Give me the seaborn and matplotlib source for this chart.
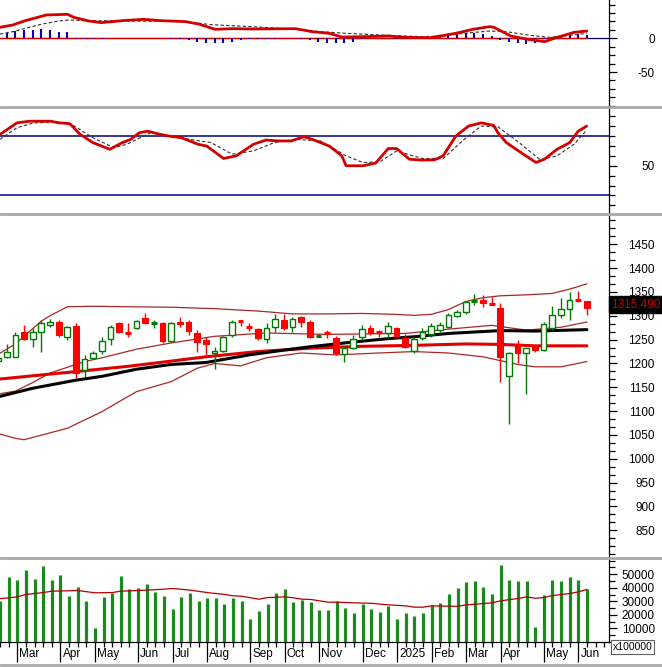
import matplotlib
matplotlib.use("Agg")
import matplotlib.pyplot as plt
import matplotlib.transforms as mtransforms
from matplotlib.lines import Line2D
from matplotlib.patches import Rectangle
import numpy as np
import pandas as pd
import seaborn as sns

# ---------------- data (weekly bars, index 0..68) ----------------
opens = [1205, 1214, 1214, 1265, 1251, 1265, 1281, 1288, 1256, 1279,
         1186, 1211, 1226, 1251, 1284, 1265, 1274, 1295, 1284, 1284,
         1248, 1288, 1288, 1263, 1249, 1221, 1227, 1260, 1290, 1277,
         1272, 1251, 1276, 1291, 1276, 1298, 1286, 1256, 1264, 1254,
         1219, 1233, 1256, 1274, 1266, 1263, 1275, 1253, 1226, 1253,
         1262, 1270, 1277, 1300, 1309, 1330, 1333, 1325, 1316, 1174,
         1240, 1221, 1237, 1228, 1274, 1302, 1314, 1335, 1331]
highs = [1214, 1240, 1266, 1281, 1274, 1291, 1293, 1291, 1279, 1284,
         1218, 1227, 1256, 1281, 1286, 1284, 1291, 1306, 1291, 1286,
         1286, 1298, 1291, 1270, 1256, 1235, 1258, 1291, 1291, 1284,
         1274, 1284, 1304, 1304, 1298, 1300, 1291, 1262, 1270, 1258,
         1237, 1260, 1281, 1281, 1270, 1286, 1277, 1261, 1256, 1274,
         1284, 1286, 1305, 1312, 1331, 1345, 1344, 1340, 1326, 1224,
         1249, 1233, 1239, 1287, 1320, 1337, 1349, 1352, 1331]
lows = [1200, 1212, 1213, 1250, 1235, 1225, 1276, 1256, 1250, 1169,
        1171, 1209, 1219, 1239, 1263, 1256, 1272, 1283, 1274, 1244,
        1245, 1277, 1260, 1225, 1218, 1188, 1225, 1256, 1278, 1269,
        1249, 1242, 1267, 1270, 1267, 1277, 1253, 1255, 1253, 1218,
        1204, 1230, 1249, 1260, 1256, 1254, 1253, 1232, 1223, 1249,
        1256, 1267, 1275, 1298, 1303, 1323, 1319, 1322, 1162, 1074,
        1200, 1137, 1224, 1227, 1270, 1295, 1291, 1328, 1302]
closes = [1211, 1224, 1260, 1251, 1267, 1284, 1288, 1260, 1277, 1181,
          1209, 1223, 1247, 1276, 1265, 1263, 1290, 1284, 1286, 1248,
          1284, 1283, 1269, 1246, 1241, 1226, 1256, 1288, 1288, 1275,
          1253, 1274, 1293, 1274, 1293, 1288, 1256, 1258, 1262, 1221,
          1232, 1251, 1272, 1263, 1264, 1279, 1258, 1235, 1251, 1267,
          1279, 1281, 1302, 1307, 1328, 1332, 1326, 1324, 1214, 1223,
          1223, 1232, 1228, 1282, 1302, 1314, 1333, 1333, 1315.49]
volumes = [30000, 48100, 45700, 53100, 46400, 56000, 45700, 49400, 34100, 40300,
           30400, 10400, 33300, 36500, 48600, 39000, 39800, 42700, 36800, 34100,
           24400, 33300, 36000, 30400, 32600, 32600, 28100, 32800, 30400, 17000,
           23000, 28100, 36000, 39000, 29600, 31300, 29400, 23500, 23500, 29900,
           25000, 21500, 28400, 24200, 22000, 26900, 16800, 21500, 19000, 21500,
           27200, 28700, 35300, 39800, 44200, 45200, 40700, 35300, 56800, 45700,
           45000, 45000, 10900, 34600, 45700, 45000, 48100, 45700, 39300]
macd_hist = [5, 7.4, 10.9, 12.4, 12.4, 13.4, 12.4, 9.9, 8.9, -1,
             -1.5, -1.5, -1, 0.5, 1, 0.5, 1, 0.5, 0, 0,
             -1, -0.5, -2, -4.9, -6.4, -7.4, -6.4, -4.9, -2, -1.5,
             -1, -1, -0.5, 0.5, 0.5, -1, -3, -4.9, -6.4, -7.4,
             -6.4, -4.9, -1, 1, 1, 0.5, -0.5, -0.5, -0.5, -1,
             0, 2, 4, 6, 7.4, 7.4, 6.4, 3, -3, -4.9,
             -6.4, -8.4, -6.4, -1, 2, 5, 6.4, 6, 5]

# overlay lines (bar index, value)
ma_black_x = [0, 4, 9, 12, 16, 20, 24, 29, 33, 36, 41, 45, 48, 52, 58, 62, 68]
ma_black_y = [1130, 1148, 1165, 1173, 1188, 1198, 1202, 1218, 1228, 1235, 1245, 1252, 1256, 1263, 1269, 1268, 1271]
ma_red_x = [0, 9, 15, 20, 24, 30, 36, 42, 48, 54, 58, 62, 68]
ma_red_y = [1167, 1183, 1194, 1205, 1214, 1225, 1232, 1236, 1238, 1241, 1240, 1237, 1237]
bb_up_x = [0, 2, 4, 5, 6, 8, 11, 15, 20, 25, 30, 34, 38, 42, 46, 48, 50, 52, 54, 56, 58, 61, 64, 66, 68]
bb_up_y = [1219, 1241, 1273, 1289, 1300, 1319, 1320, 1319, 1318, 1315, 1310, 1304, 1304, 1305, 1303, 1301,
           1303, 1313, 1330, 1338, 1342, 1344, 1347, 1356, 1367]
bb_mid_x = [0, 2, 4, 6, 8, 10, 12, 16, 20, 25, 31, 38, 47, 52, 57, 61, 65, 68]
bb_mid_y = [1136, 1142, 1160, 1180, 1192, 1204, 1212, 1230, 1243, 1257, 1264, 1261, 1263, 1272, 1280, 1270, 1276, 1287]
bb_low_x = [0, 2, 3, 8, 12, 16, 20, 23, 25, 28, 31, 35, 39, 44, 48, 52, 56, 58, 60, 62, 65, 68]
bb_low_y = [1053, 1043, 1040, 1064, 1099, 1141, 1162, 1190, 1200, 1195, 1212, 1222, 1218, 1222, 1225, 1222,
            1214, 1206, 1198, 1193, 1193, 1204]

vol_ma_x = [0, 1, 2, 3, 5, 6, 9, 11, 13, 14, 17, 19, 20, 22, 24, 26, 27, 28, 30, 31, 33, 34, 35, 36, 38, 39,
            41, 43, 45, 47, 48, 49, 50, 52, 53, 54, 55, 57, 58, 60, 61, 62, 63, 64, 66, 67, 68]
vol_ma_y = [32000, 32600, 33300, 35100, 36500, 37500, 38000, 36300, 36500, 37500, 38300, 39000, 39500, 38300,
            36500, 35100, 34100, 33800, 31600, 32800, 33300, 32600, 31600, 31400, 29400, 29400, 28900, 28600,
            27400, 26700, 25700, 25700, 26700, 26400, 26400, 27400, 27900, 28900, 30400, 32100, 33300, 32300,
            32800, 34300, 35800, 37000, 38800]

macd_x = [0.23, 1.69, 3.15, 5.59, 8.02, 8.76, 10.46, 11.92, 14.36, 16.8, 18.75, 21.67, 23.13, 25.09, 27.04,
          29.47, 34.35, 36.3, 38.25, 39.7, 42.14, 45.06, 47.02, 49.94, 52.87, 54.82, 56.77, 57.26, 59.21,
          61.15, 63.1, 64.57, 66.52, 67.98]
macd_y = [16.3, 19.7, 26.2, 34.6, 35.6, 31.1, 25.7, 23.2, 26.2, 28.1, 26.2, 24.7, 21.2, 13.3, 14.3,
          13.8, 14.3, 9.8, 7.4, 1.9, 2.4, 3.4, 1.4, 0.9, 7.4, 13.3, 17.3, 16.3, 3.4,
          -1.5, -5.0, 1.4, 8.8, 10.8]
signal_x = [0.23, 1.69, 3.64, 5.1, 7.05, 8.27, 9.98, 14.85, 19.72, 21.67, 24.6, 29.47, 34.35, 37.27, 40.19,
            44.09, 48.96, 51.4, 53.84, 56.77, 58.72, 61.15, 63.59, 66.03, 67.98]
signal_y = [6.4, 9.8, 16.3, 21.2, 25.7, 27.2, 26.2, 25.7, 25.2, 24.7, 20.2, 17.2, 13.3, 9.8, 7.4,
            4.9, 2.4, 3.4, 7.4, 10.8, 9.8, 4.9, 1.4, 4.4, 7.4]

rsi_x = [0.23, 2.18, 3.64, 6.07, 7.05, 8.27, 9.49, 10.95, 12.9, 14.36, 15.33, 16.31, 17.28, 18.74, 19.72,
         21.18, 23.13, 24.1, 26.05, 27.52, 29.47, 30.93, 32.39, 33.85, 35.31, 36.29, 38.24, 39.7, 40.19,
         42.14, 43.6, 45.06, 46.03, 47.5, 48.96, 50.42, 51.4, 52.86, 54.32, 55.79, 57.24, 57.73, 58.7,
         60.66, 62.12, 63.09, 64.55, 66.02, 67.0, 67.97]
rsi_y = [71.1, 78.9, 80, 80, 78.9, 78.4, 71.1, 65.6, 61.1, 65.6, 67.8, 72.2, 73.3, 71.1, 70,
         68.9, 64.4, 63.3, 54.9, 56.7, 64.4, 67.3, 66.7, 66.7, 69.6, 67.8, 63.3, 56.7, 50,
         50, 51.8, 61.6, 61.6, 54.4, 53.8, 54, 56.7, 70, 76.7, 78.9, 77.1, 72.2, 65.6,
         57.8, 52.2, 54.4, 61.1, 65.6, 73.3, 76.7]
rsi_sig_x = [0.23, 2.18, 4.12, 7.05, 8.51, 10.95, 13.38, 14.85, 16.8, 17.77, 19.72, 22.16, 24.59, 27.03,
             29.47, 31.9, 34.34, 37.26, 40.19, 42.14, 44.09, 46.03, 48.96, 51.4, 53.83, 55.78, 57.73,
             60.17, 62.6, 64.55, 66.5, 67.97]
rsi_sig_y = [67.8, 75.6, 78.9, 79.3, 77.8, 68.9, 62.2, 64.4, 70, 72.7, 70.4, 67.8, 65.6, 57.8,
             60, 65.6, 67.8, 66.7, 56.7, 52.2, 52.7, 60, 54.9, 54.9, 67.8, 76.7, 76.2,
             65.6, 54, 56.7, 64.4, 74]

month_pos = [2, 7, 11, 16, 20, 24, 29, 33, 37, 42, 46, 50, 54, 58, 63, 67]
month_labels = ["Mar", "Apr", "May", "Jun", "Jul", "Aug", "Sep", "Oct", "Nov", "Dec",
                "2025", "Feb", "Mar", "Apr", "May", "Jun"]
price_ticks = [850, 900, 950, 1000, 1050, 1100, 1150, 1200, 1250, 1300, 1350, 1400, 1450]
vol_ticks = [10000, 20000, 30000, 40000, 50000]
last_price_label = "1315.490"

# ---------------- figure ----------------
sns.set_theme(style="white")
plt.rcParams["font.family"] = ["Liberation Sans", "DejaVu Sans"]

W, H = 662, 667
fig = plt.figure(figsize=(W / 100, H / 100), dpi=100)
fig.patch.set_facecolor("white")
AX_R = 609


def rect(top, bottom):
    return [0, 1 - bottom / H, AX_R / W, (bottom - top) / H]


ax_macd = fig.add_axes(rect(0, 106))
ax_rsi = fig.add_axes(rect(108, 213))
ax_price = fig.add_axes(rect(216, 557))
ax_vol = fig.add_axes(rect(558, 642))

XL = (0.226, 70.55)
for ax in (ax_macd, ax_rsi, ax_price, ax_vol):
    ax.set_facecolor("white")
    ax.set_xlim(*XL)
    for s in ("top", "left", "bottom"):
        ax.spines[s].set_visible(False)
    ax.spines["right"].set_color("black")
    ax.spines["right"].set_linewidth(0.9)
    ax.yaxis.tick_right()
    ax.set_xticks([])
    ax.grid(False)

GREEN = "#007a00"
RED = "#ff0000"
BBC = "#a82828"

# ---- MACD ----
ax_macd.set_ylim(-100.4, 56.8)
ax_macd.axhline(0, color="#000080", lw=0.9, zorder=1)
ax_macd.plot([0, 68], [0, 0], color="#d00000", lw=0.9, zorder=2)
ax_macd.vlines(range(len(macd_hist)), 0, macd_hist, color="#0000b0", lw=1.5, zorder=3)
sns.lineplot(x=signal_x, y=signal_y, ax=ax_macd, color="#303030", lw=0.8,
             linestyle=(0, (3, 2)), sort=False, zorder=4)
sns.lineplot(x=macd_x, y=macd_y, ax=ax_macd, color="#d40000", lw=2.0, sort=False, zorder=5)

# ---- RSI ----
ax_rsi.set_ylim(18.2, 88.9)
ax_rsi.axhline(70, color="#000080", lw=1.1)
ax_rsi.axhline(30, color="#000080", lw=1.1)
sns.lineplot(x=rsi_sig_x, y=rsi_sig_y, ax=ax_rsi, color="#303030", lw=0.8,
             linestyle=(0, (3, 2)), sort=False, zorder=4)
sns.lineplot(x=rsi_x, y=rsi_y, ax=ax_rsi, color="#d40000", lw=2.0, sort=False, zorder=5)

# ---- Price ----
ax_price.set_ylim(794, 1509.4)
sns.lineplot(x=bb_up_x, y=bb_up_y, ax=ax_price, color=BBC, lw=0.9, sort=False, zorder=2)
sns.lineplot(x=bb_mid_x, y=bb_mid_y, ax=ax_price, color=BBC, lw=0.9, sort=False, zorder=2)
sns.lineplot(x=bb_low_x, y=bb_low_y, ax=ax_price, color=BBC, lw=0.9, sort=False, zorder=2)
sns.lineplot(x=ma_red_x, y=ma_red_y, ax=ax_price, color="#e00000", lw=2.2, sort=False, zorder=3)
sns.lineplot(x=ma_black_x, y=ma_black_y, ax=ax_price, color="black", lw=2.2, sort=False, zorder=3)

BW = 0.66
for i, (o, h, l, c) in enumerate(zip(opens, highs, lows, closes)):
    up = c >= o
    col = GREEN if up else RED
    ax_price.vlines(i, l, h, color=col, lw=1.0, zorder=5)
    lo, hi = min(o, c), max(o, c)
    if hi - lo < 2.5:
        ax_price.hlines((o + c) / 2, i - BW / 2, i + BW / 2, color=col, lw=2.2, zorder=6)
    elif up:
        ax_price.add_patch(Rectangle((i - BW / 2, lo), BW, hi - lo, facecolor="white",
                                     edgecolor=col, lw=1.0, zorder=6))
    else:
        ax_price.add_patch(Rectangle((i - BW / 2, lo), BW, hi - lo, facecolor=col,
                                     edgecolor=col, lw=0.8, zorder=6))

tr = mtransforms.blended_transform_factory(ax_price.transAxes, ax_price.transData)
ax_price.text(1.004, closes[-1] + 8, last_price_label, transform=tr, ha="left", va="center",
              color="#c80000", fontsize=8.5, zorder=10, clip_on=False,
              bbox=dict(boxstyle="square,pad=0.18", facecolor="black", edgecolor="black"))

# ---- Volume ----
ax_vol.set_ylim(0, 62000)
ax_vol.vlines(range(len(volumes)), 0, volumes, color="#1d8a1d", lw=2.3, zorder=3)
sns.lineplot(x=vol_ma_x, y=vol_ma_y, ax=ax_vol, color="#b00000", lw=0.9, sort=False, zorder=4)
ax_vol.spines["bottom"].set_visible(True)
ax_vol.spines["bottom"].set_color("black")
ax_vol.spines["bottom"].set_linewidth(0.9)
ax_vol.set_xticks(month_pos)
ax_vol.set_xticklabels([])
ax_vol.set_xticks(np.arange(0, 71), minor=True)
ax_vol.tick_params(axis="x", which="major", direction="out", length=14.5, width=0.9, color="black", bottom=True)
ax_vol.tick_params(axis="x", which="minor", direction="out", length=3.6, width=0.9, color="black", bottom=True)
for p, lab in zip(month_pos, month_labels):
    ax_vol.annotate(lab, xy=(p, 0), xycoords=("data", "axes fraction"), xytext=(1.5, -4.5),
                    textcoords="offset points", ha="left", va="top", fontsize=8.5, color="black")

# ---- y ticks (right side) ----
def set_right_ticks(ax, majors, labels, minors):
    ax.set_yticks(majors)
    ax.set_yticklabels(labels)
    ax.set_yticks(minors, minor=True)
    ax.tick_params(axis="y", which="major", direction="out", length=6, width=0.9, colors="black",
                   labelsize=8.5, pad=27, right=True, left=False)
    ax.tick_params(axis="y", which="minor", direction="out", length=4, width=0.9, color="black",
                   right=True, left=False)
    for t in ax.get_yticklabels():
        t.set_horizontalalignment("right")


set_right_ticks(ax_macd, [0, -50], ["0", "-50"], np.arange(-100, 51, 12.5))
set_right_ticks(ax_rsi, [50], ["50"], [50 + k * 20 / 3 for k in range(-4, 6)])
set_right_ticks(ax_price, price_ticks, [str(v) for v in price_ticks], np.arange(800, 1510, 50 / 3))
set_right_ticks(ax_vol, vol_ticks, [str(v) for v in vol_ticks], np.arange(0, 62001, 5000))

# unit box, placed just under the 10000 label
ax_vol.text(1.006, -0.06, "x100000", transform=ax_vol.transAxes, ha="left", va="center",
            fontsize=7.5, color="black", zorder=10, clip_on=False,
            bbox=dict(boxstyle="square,pad=0.15", facecolor="white", edgecolor="#606060", lw=0.8))

# ---- panel separators ----
for ypix in (107, 214.5, 557.5, 665):
    fig.add_artist(Line2D([0, 1], [1 - ypix / H] * 2, transform=fig.transFigure,
                          color="#a9a9a9", lw=2.0))

fig.savefig("out.png", dpi=100, facecolor="white")
